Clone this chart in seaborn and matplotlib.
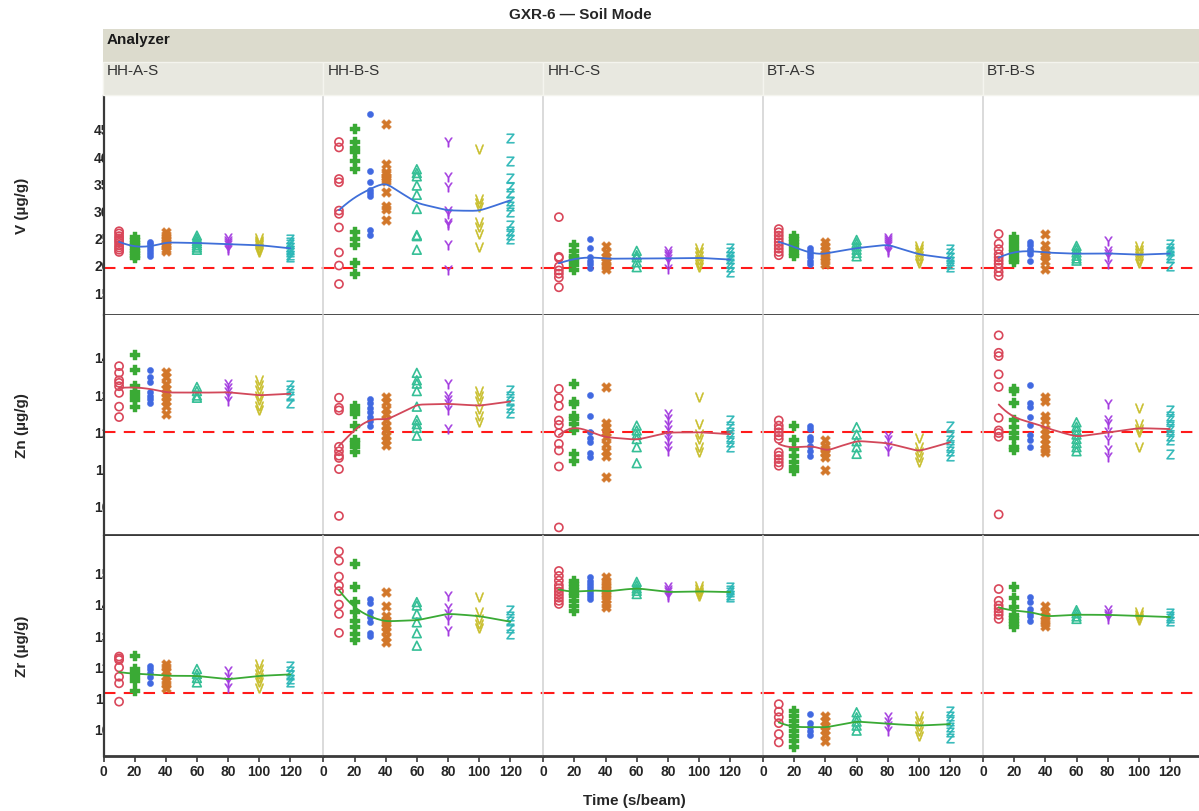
import numpy as np
import pandas as pd
import matplotlib
matplotlib.use("Agg")
import matplotlib.pyplot as plt
import seaborn as sns
from matplotlib.patches import Rectangle
from matplotlib.transforms import Bbox, TransformedBbox

# ---------------------------------------------------------------- data
analyzers = ["HH-A-S", "HH-B-S", "HH-C-S", "BT-A-S", "BT-B-S"]
elements = ["V", "Zn", "Zr"]
times = [10, 20, 30, 40, 60, 80, 100, 120]
reference = {"V": 195.0, "Zn": 119.7, "Zr": 111.3}

# V (µg/g): one list of repeat readings per beam time
v_hh_a = [[262, 258, 253, 249, 245, 241, 236, 232, 228, 224],
          [251, 246, 241, 236, 231, 226, 222, 217, 213],
          [243, 238, 233, 228, 222, 217],
          [260, 255, 250, 246, 242, 238, 234, 230, 226],
          [254, 249, 244, 240, 236, 232, 228],
          [249, 244, 240, 236, 232, 228],
          [249, 245, 241, 237, 232, 228, 224],
          [248, 243, 238, 233, 228, 223, 218, 214]]
v_hh_b = [[426, 416, 358, 352, 300, 294, 269, 223, 199, 165],
          [450, 426, 415, 407, 392, 376, 260, 248, 236, 203, 184],
          [478, 372, 352, 338, 332, 326, 264, 255],
          [459, 386, 370, 367, 361, 358, 355, 335, 308, 303, 283],
          [376, 369, 363, 346, 329, 303, 255, 253, 228],
          [426, 361, 344, 300, 294, 277, 274, 237, 190],
          [413, 321, 314, 306, 279, 269, 257, 233],
          [433, 392, 360, 343, 332, 318, 309, 298, 274, 263, 255, 248]]
v_hh_c = [[288, 215, 213, 197, 190, 184, 177, 159],
          [236, 226, 217, 212, 208, 200, 190],
          [248, 231, 215, 208, 201, 195],
          [234, 223, 214, 210, 205, 199, 193],
          [226, 218, 214, 205, 196],
          [226, 221, 217, 211, 205, 193],
          [232, 224, 216, 209, 202, 196],
          [231, 224, 217, 211, 204, 196, 187]]
v_bt_a = [[266, 260, 254, 248, 242, 236, 230, 224, 218],
          [254, 248, 242, 236, 229, 222, 217],
          [232, 226, 220, 214, 208, 202],
          [242, 235, 228, 221, 214, 207, 201],
          [246, 240, 234, 228, 222, 216],
          [250, 246, 242, 238, 234, 228, 224],
          [235, 229, 223, 217, 210, 203],
          [229, 222, 215, 208, 202, 196]]
v_bt_b = [[257, 239, 229, 220, 214, 208, 202, 195, 187, 180],
          [251, 244, 237, 230, 223, 216, 210, 205],
          [242, 236, 230, 225, 220, 208],
          [257, 236, 226, 221, 217, 208, 193],
          [235, 229, 223, 217, 212, 208],
          [245, 226, 220, 214, 202],
          [235, 228, 222, 216, 209, 203],
          [239, 232, 225, 219, 212, 199]]

# Zn (µg/g)
zn_hh_a = [[137.5, 135.7, 133.7, 133.0, 132.1, 130.3, 126.6, 123.8],
           [140.6, 136.6, 132.1, 130.5, 129.4, 128.5, 126.5],
           [136.6, 134.6, 133.2, 130.5, 129.6, 128.7, 127.6],
           [135.9, 134.6, 132.8, 131.4, 130.3, 129.2, 128.1, 126.9, 124.7],
           [131.9, 130.8, 129.6, 129.0],
           [132.8, 131.7, 130.5, 129.4, 128.1],
           [133.7, 132.3, 131.0, 129.6, 128.3, 126.9, 125.8],
           [132.3, 131.0, 129.4, 127.6]]
zn_hh_b = [[129.0, 126.3, 125.6, 115.8, 114.6, 113.4, 112.8, 109.8, 97.2],
           [126.9, 125.6, 124.7, 121.5, 117.6, 116.7, 115.7, 114.3],
           [128.7, 127.6, 126.3, 125.1, 123.8, 122.7, 121.5],
           [129.2, 127.8, 126.0, 124.7, 122.9, 121.5, 120.2, 118.8, 117.5, 116.4],
           [135.7, 133.7, 132.8, 130.8, 126.6, 123.0, 121.9, 120.9, 118.8],
           [132.6, 129.6, 128.5, 127.4, 125.6, 120.6],
           [130.8, 129.6, 128.1, 126.0, 124.2, 122.4],
           [131.0, 129.6, 128.1, 126.3, 124.9]]
zn_hh_c = [[131.4, 128.9, 126.8, 122.9, 121.7, 119.5, 116.6, 114.8, 110.5, 94.1],
           [132.8, 127.8, 127.4, 124.2, 123.3, 122.0, 120.2, 113.9, 112.1],
           [129.8, 124.1, 119.9, 118.1, 117.2, 114.1, 113.0],
           [131.9, 122.2, 121.1, 119.7, 118.4, 116.6, 114.8, 113.2, 107.8],
           [121.5, 120.2, 119.0, 117.9, 115.7, 111.4],
           [124.7, 123.3, 121.7, 120.2, 118.8, 117.5, 116.1, 114.8],
           [129.2, 122.0, 119.3, 117.9, 115.7, 114.3],
           [122.9, 121.5, 119.7, 118.4, 117.0, 115.7]]
zn_bt_a = [[122.9, 121.5, 120.6, 119.7, 118.8, 117.9, 114.3, 113.4, 112.5, 111.6, 110.7],
           [121.5, 117.5, 115.2, 113.4, 111.6, 110.3, 109.2],
           [121.5, 120.6, 118.5, 117.5, 116.1, 114.8, 113.4],
           [117.6, 116.0, 115.2, 114.5, 114.1, 113.0, 109.5],
           [121.1, 119.1, 117.3, 115.7, 113.9],
           [118.8, 117.5, 116.1, 114.8],
           [118.2, 115.7, 114.3, 113.1, 111.6],
           [121.5, 118.8, 117.5, 116.1, 114.8, 113.4]]
zn_bt_b = [[145.8, 141.1, 140.2, 135.3, 131.9, 123.6, 120.2, 119.5, 118.5, 97.6],
           [131.4, 130.8, 127.6, 122.9, 121.1, 119.5, 118.2, 115.7, 114.9],
           [132.5, 127.6, 126.5, 123.8, 121.8, 119.1, 117.6, 115.8],
           [129.2, 128.1, 124.2, 123.1, 120.6, 119.3, 117.9, 116.6, 115.2, 114.3],
           [122.4, 121.2, 120.2, 119.1, 117.9, 116.8, 115.7, 114.6],
           [127.2, 123.1, 122.0, 119.7, 117.5, 114.9, 113.0],
           [126.3, 122.0, 120.6, 119.7, 115.7],
           [125.6, 124.2, 122.9, 121.5, 120.2, 118.8, 117.5, 113.9]]

# Zr (µg/g)
zr_hh_a = [[123.1, 122.5, 122.0, 119.6, 116.6, 114.5, 108.6],
           [123.4, 119.1, 117.7, 116.6, 115.3, 112.1],
           [120.2, 119.1, 117.7, 116.4, 114.5],
           [120.7, 119.6, 118.4, 116.9, 115.3, 114.3, 113.0],
           [119.1, 117.5, 116.2, 114.8],
           [118.6, 116.6, 114.8, 113.0],
           [120.7, 119.1, 117.5, 116.2, 114.8, 113.0],
           [120.2, 118.6, 117.3, 115.9, 114.8]]
zr_hh_b = [[156.9, 153.9, 148.8, 145.9, 144.1, 139.8, 136.8, 130.7],
           [152.9, 145.6, 140.6, 137.3, 134.6, 132.7, 130.4, 128.4],
           [141.6, 140.2, 137.3, 135.7, 134.1, 130.6, 129.8],
           [143.7, 139.5, 136.2, 135.0, 133.8, 132.5, 131.4, 129.5, 127.7],
           [140.6, 139.5, 136.8, 134.1, 130.6, 126.6],
           [142.7, 138.7, 136.8, 134.9, 131.4],
           [142.2, 137.3, 135.2, 133.6, 132.3],
           [138.2, 136.2, 134.4, 132.4, 130.3]]
zr_hh_c = [[150.6, 149.0, 147.5, 146.0, 145.0, 144.0, 143.0, 142.0, 141.0, 140.0],
           [147.5, 146.5, 145.5, 144.5, 143.5, 142.5, 141.0, 139.5, 137.8],
           [148.7, 147.5, 146.5, 145.5, 144.5, 143.5, 142.5, 141.6],
           [148.7, 147.5, 146.5, 145.5, 144.5, 143.5, 142.5, 141.5, 140.0, 139.0],
           [147.1, 146.0, 145.0, 144.2, 143.2],
           [145.5, 144.5, 143.8, 143.0, 142.2],
           [145.8, 144.8, 144.0, 143.2, 142.4],
           [145.5, 144.6, 143.8, 143.0, 142.2]]
zr_bt_a = [[107.8, 105.4, 103.6, 101.7, 98.2, 95.5],
           [105.7, 104.1, 102.5, 100.9, 99.3, 97.7, 96.0, 93.9],
           [104.6, 101.7, 100.4, 99.3, 97.9],
           [104.1, 102.5, 100.9, 99.5, 98.0, 96.0],
           [105.2, 103.6, 102.2, 100.9, 99.3],
           [103.6, 102.2, 100.9, 99.3],
           [104.1, 102.5, 100.9, 99.3, 97.7],
           [105.7, 104.0, 102.3, 100.6, 98.9, 96.8]]
zr_bt_b = [[144.8, 141.0, 139.5, 138.5, 137.5, 136.5, 135.2],
           [145.5, 142.0, 139.0, 136.5, 135.5, 134.5, 133.5, 132.6],
           [142.2, 140.5, 138.5, 137.0, 136.0, 134.6],
           [139.5, 137.5, 136.0, 135.0, 134.0, 133.0],
           [138.0, 137.0, 136.0, 135.2],
           [138.0, 136.8, 136.0, 135.2],
           [137.5, 136.5, 135.6, 135.0],
           [137.0, 136.2, 135.4, 134.6]]

readings = {
    "V": [v_hh_a, v_hh_b, v_hh_c, v_bt_a, v_bt_b],
    "Zn": [zn_hh_a, zn_hh_b, zn_hh_c, zn_bt_a, zn_bt_b],
    "Zr": [zr_hh_a, zr_hh_b, zr_hh_c, zr_bt_a, zr_bt_b],
}

rows = []
for el in elements:
    for an, groups in zip(analyzers, readings[el]):
        for t, vals in zip(times, groups):
            for v in vals:
                rows.append((el, an, t, v))
df = pd.DataFrame(rows, columns=["element", "analyzer", "time", "value"])

# ---------------------------------------------------------------- styles
point_colors = ["#d9475a", "#3aaa35", "#4169e1", "#d2772a",
                "#35bf96", "#a33be0", "#c8be2a", "#2bb7b7"]
point_markers = ["o", "P", "o", "X", "^",
                 r"$\mathsf{Y}$", r"$\mathsf{V}$", r"$\mathsf{Z}$"]
point_sizes = [34, 50, 20, 50, 40, 46, 46, 46]
open_marker = [True, False, False, False, True, False, False, False]
smooth_colors = {"V": "#3f6fd9", "Zn": "#d2485a", "Zr": "#3aaa35"}
y_limits = {"V": (109, 511.5), "Zn": (92.2, 151.4), "Zr": (91.3, 162.0)}
y_ticks = {"V": [150, 200, 250, 300, 350, 400, 450],
           "Zn": [100, 110, 120, 130, 140],
           "Zr": [100, 110, 120, 130, 140, 150]}
y_titles = {"V": "V (µg/g)", "Zn": "Zn (µg/g)", "Zr": "Zr (µg/g)"}

sns.set_style("white")
plt.rcParams["font.family"] = ["Liberation Sans", "DejaVu Sans"]
plt.rcParams["mathtext.fontset"] = "dejavusans"

W, H = 1199, 812
fig = plt.figure(figsize=(W / 100, H / 100), dpi=100)


def fx(px):
    return px / W


def fy(py):
    return 1 - py / H


def local_linear(x, y, grid, bw):
    """Gaussian-weighted local linear smoother."""
    out = []
    for g in grid:
        w = np.exp(-0.5 * ((x - g) / bw) ** 2)
        X = np.column_stack([np.ones_like(x), x - g])
        WX = X * w[:, None]
        beta = np.linalg.lstsq(WX.T @ X, WX.T @ y, rcond=None)[0]
        out.append(beta[0])
    return np.array(out)


col_left = [103.5 + 219.9 * k for k in range(5)]
col_width = 219.5
row_top = [96.5, 315.5, 536.5]
row_bottom = [315.5, 535.5, 756.5]

for r, el in enumerate(elements):
    for c, an in enumerate(analyzers):
        rect = [fx(col_left[c]), fy(row_bottom[r]), fx(col_width),
                (row_bottom[r] - row_top[r]) / H]
        ax = fig.add_axes(rect)
        sub = df[(df.element == el) & (df.analyzer == an)]

        ax.axhline(reference[el], color="#ff1a1a", lw=1.5,
                   dashes=(5.5, 4.0), zorder=1.5)

        for i, t in enumerate(times):
            grp = sub[sub.time == t]
            col = point_colors[i]
            if open_marker[i]:
                sns.scatterplot(data=grp, x="time", y="value", ax=ax,
                                marker=point_markers[i], s=point_sizes[i],
                                facecolor="none", edgecolor=col,
                                linewidth=1.2, legend=False, zorder=2)
            else:
                sns.scatterplot(data=grp, x="time", y="value", ax=ax,
                                marker=point_markers[i], s=point_sizes[i],
                                color=col, edgecolor=col, linewidth=0.3,
                                legend=False, zorder=2)

        grid = np.linspace(10, 120, 221)
        fit = local_linear(sub.time.to_numpy(float),
                           sub.value.to_numpy(float), grid, 8.5)
        sns.lineplot(x=grid, y=fit, ax=ax, color=smooth_colors[el],
                     lw=1.3, zorder=3)

        ax.set_xlim(0, 141)
        ax.set_ylim(*y_limits[el])
        ax.set_xlabel("")
        ax.set_ylabel("")
        ax.grid(False)
        for side in ("top", "right"):
            ax.spines[side].set_visible(False)
        ax.spines["bottom"].set_color("#3a3a3a")
        ax.spines["bottom"].set_linewidth(2.0)
        if c == 0:
            ax.spines["left"].set_color("#3a3a3a")
            ax.spines["left"].set_linewidth(1.6)
        else:
            ax.spines["left"].set_color("#d4d4d4")
            ax.spines["left"].set_linewidth(1.2)

        if r == 2:
            ax.set_xticks([0, 20, 40, 60, 80, 100, 120])
            ax.set_xticklabels(["0", "20", "40", "60", "80", "100", "120"],
                               fontweight="bold", fontsize=10)
            ax.tick_params(axis="x", length=4, width=1.2, pad=2,
                           color="#3a3a3a", bottom=True)
        else:
            ax.set_xticks([])

        if c == 0:
            ticks = y_ticks[el]
            ax.set_yticks(ticks)
            ax.set_yticklabels([str(t) for t in ticks], fontweight="bold",
                               fontsize=10)
            ax.tick_params(axis="y", length=0, pad=-10, left=True)
            # labels run under the frame: keep only the part left of it
            clip = TransformedBbox(
                Bbox.from_extents(0, fy(row_bottom[r]), fx(col_left[0]),
                                  fy(row_top[r])), fig.transFigure)
            for lab in ax.get_yticklabels():
                lab.set_clip_on(True)
                lab.set_clip_box(clip)
        else:
            ax.set_yticks([])

# facet strips
fig.patches.append(Rectangle((fx(103), fy(63)), fx(W - 103), (63 - 30) / H,
                             transform=fig.transFigure, facecolor="#dcdbcd",
                             edgecolor="none", zorder=0))
fig.text(fx(107), fy(40), "Analyzer", fontsize=11, fontweight="bold",
         va="center", ha="left", color="#1a1a1a")
for c, an in enumerate(analyzers):
    x0 = col_left[c] if c else 103
    fig.patches.append(Rectangle((fx(x0), fy(96)), fx(col_left[c] + col_width - x0),
                                 (96 - 63) / H, transform=fig.transFigure,
                                 facecolor="#e8e8e0", edgecolor="#f4f4ee",
                                 lw=1.0, zorder=0))
    fig.text(fx(x0 + 4), fy(71), an, fontsize=11, va="center", ha="left",
             color="#333333")

# titles
fig.text(fx(580), fy(15), "GXR-6 — Soil Mode", fontsize=11,
         fontweight="bold", ha="center", va="center")
fig.text(fx(634), fy(801), "Time (s/beam)", fontsize=11, fontweight="bold",
         ha="center", va="center")
for r, el in enumerate(elements):
    fig.text(fx(22), fy((row_top[r] + row_bottom[r]) / 2), y_titles[el],
             fontsize=11, fontweight="bold", rotation=90,
             ha="center", va="center")

fig.savefig("out.png", dpi=100)
